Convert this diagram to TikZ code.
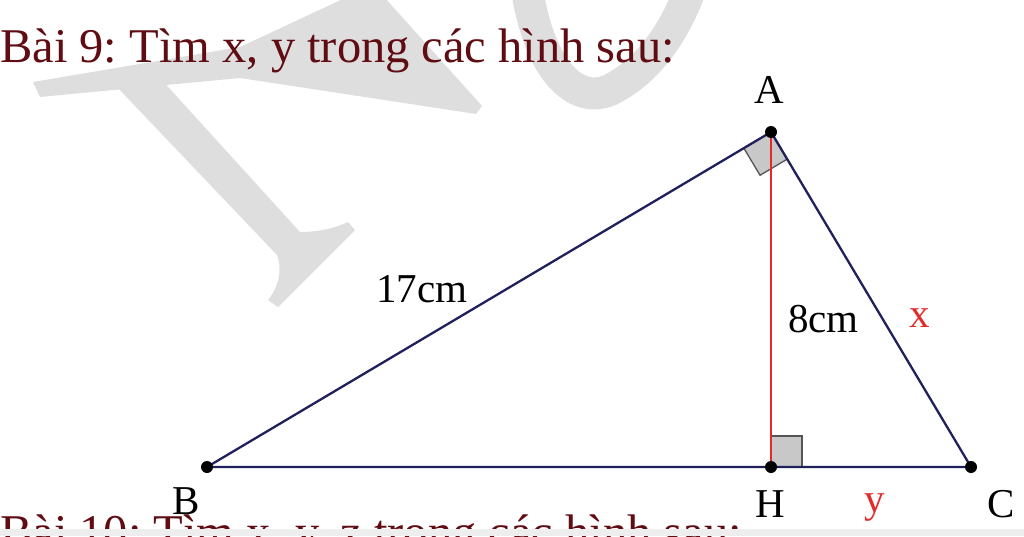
\documentclass[tikz,border=0pt]{standalone}
\usepackage{fontspec}
\setmainfont{Liberation Serif}
\usetikzlibrary{calc}
\frenchspacing
\definecolor{titlered}{RGB}{95,12,18}
\definecolor{navyline}{RGB}{32,32,92}
\definecolor{redline}{RGB}{226,42,42}
\definecolor{wm}{RGB}{222,222,222}
\definecolor{markfill}{RGB}{200,200,200}
\definecolor{markdraw}{RGB}{85,85,85}
\definecolor{strip}{RGB}{238,238,238}
\tikzset{
  titletext/.style={anchor=base west, inner sep=0, text=titlered, font=\fontsize{48.5}{58}\selectfont},
  lbl/.style={anchor=base, inner sep=0, font=\fontsize{41}{48}\selectfont},
  lblw/.style={anchor=base west, inner sep=0, font=\fontsize{41}{48}\selectfont},
  side/.style={draw=navyline, line width=2.3pt},
  alt/.style={draw=redline, line width=2.3pt},
  rmark/.style={fill=markfill, draw=markdraw, line width=1.3pt},
  vdot/.style={circle, fill=black, inner sep=0, minimum size=12pt},
  wmark/.style={fill=wm, draw=none}
}
\begin{document}
\begin{tikzpicture}[x=1pt, y=-1pt]
\useasboundingbox (0,0) rectangle (1024,536);
\clip (0,0) rectangle (1024,536);
% watermark
\fill[wmark] (33,82) -- (240,47) -- (345,-2) -- (385,-2) -- (482,106) -- (476,114) -- (240,78) -- (40,97) -- cycle;
\fill[wmark] (116,86) -- (160,78) -- (300,232) .. controls (320,232) and (335,228) .. (348,222) -- (355,230) -- (278,307) -- (268,300) .. controls (280,285) and (282,268) .. (277,255) -- cycle;
\draw[wm, line width=32pt] (527,-10) .. controls (540,70) and (575,105) .. (610,90) .. controls (650,70) and (675,30) .. (690,-10);
% title
\node[titletext] (title) at (0,62) {Bài 9: Tìm x, y trong các hình sau:};
\node[titletext] (next) at (0,548) {Bài 10: Tìm x, y, z trong các hình sau:};
\fill[strip] (0,529) rectangle (1024,536);
% points
\coordinate (A) at (771,132);
\coordinate (B) at (207,467);
\coordinate (C) at (971,467);
\coordinate (H) at (771,467);
% right angle marks
\coordinate (pa) at ($(A)!31.6pt!(B)$);
\coordinate (pc) at ($(A)!31.6pt!(C)$);
\coordinate (pm) at ($(pa)+(pc)-(A)$);
\draw[rmark] (A) -- (pa) -- (pm) -- (pc) -- cycle;
\draw[rmark] (H) rectangle ($(H)+(31,-31)$);
% sides
\draw[side] (B) -- (A) -- (C) -- (B);
\draw[alt] (A) -- (H);
\node[vdot] (dA) at (A) {};
\node[vdot] (dB) at (B) {};
\node[vdot] (dC) at (C) {};
\node[vdot] (dH) at (H) {};
% labels
\node[lbl] (lA) at (769,103) {A};
\node[lbl] (lB) at (186,514) {B};
\node[lbl] (lH) at (770,517) {H};
\node[lbl] (lC) at (1001,517) {C};
\node[lbl, text=redline] (ly) at (875,512) {y};
\node[lbl, text=redline] (lx) at (920,327) {x};
\node[lblw] (l17) at (376,302) {17cm};
\node[lblw] (l8) at (788,332) {8cm};
\end{tikzpicture}
\end{document}
